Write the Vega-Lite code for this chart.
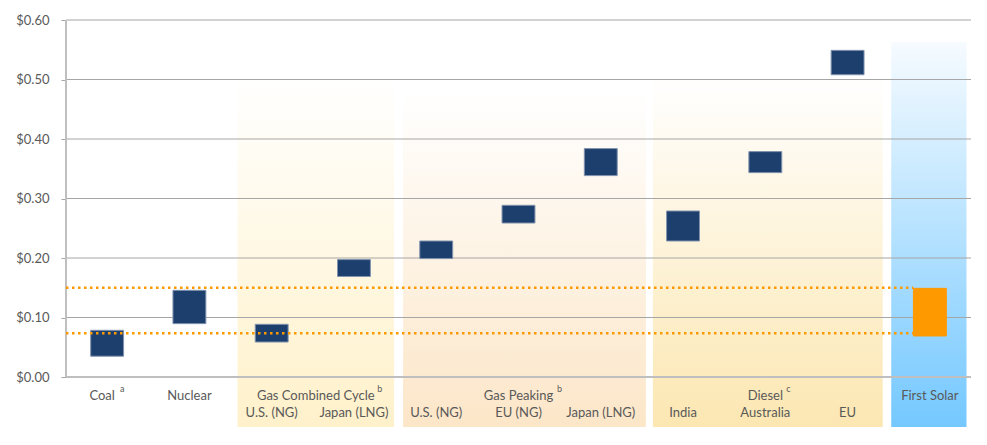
{
  "$schema": "https://vega.github.io/schema/vega-lite/v6.json",
  "width": 905,
  "height": 407,
  "autosize": {"type": "none"},
  "padding": {"left": 66, "top": 20, "right": 16, "bottom": 18},
  "background": "white",
  "config": {"view": {"stroke": null}, "font": "Lato"},
  "datasets": {
    "bars": [
      {"cat": "coal", "type": "conventional", "low": 0.035, "high": 0.0785},
      {"cat": "nuclear", "type": "conventional", "low": 0.0897, "high": 0.1457},
      {"cat": "gcc_us", "type": "conventional", "low": 0.0588, "high": 0.0886},
      {"cat": "gcc_jp", "type": "conventional", "low": 0.169, "high": 0.1973},
      {"cat": "gp_us", "type": "conventional", "low": 0.199, "high": 0.2286},
      {"cat": "gp_eu", "type": "conventional", "low": 0.2588, "high": 0.2886},
      {"cat": "gp_jp", "type": "conventional", "low": 0.3385, "high": 0.3839},
      {"cat": "d_in", "type": "conventional", "low": 0.2286, "high": 0.279},
      {"cat": "d_au", "type": "conventional", "low": 0.3435, "high": 0.3788},
      {"cat": "d_eu", "type": "conventional", "low": 0.508, "high": 0.549},
      {"cat": "fs", "type": "solar", "low": 0.069, "high": 0.149}
    ],
    "regions": [
      {"group": "gcc", "start": "gcc_us", "end": "gcc_jp"},
      {"group": "gp", "start": "gp_us", "end": "gp_jp"},
      {"group": "diesel", "start": "d_in", "end": "d_eu"},
      {"group": "solar", "start": "fs", "end": "fs"}
    ],
    "grid": [{"v": 0.1}, {"v": 0.2}, {"v": 0.3}, {"v": 0.4}, {"v": 0.5}, {"v": 0.6}],
    "levels": [{"level": 0.1502}, {"level": 0.0735}],
    "groupLabels": [
      {"cat": "nuclear", "text": "Nuclear"},
      {"cat": "gp_eu", "text": "Gas Peaking"},
      {"cat": "d_au", "text": "Diesel"},
      {"cat": "fs", "text": "First Solar"}
    ],
    "coalLabel": [{"cat": "coal", "text": "Coal", "note": "a"}],
    "gccLabel": [{"cat": "gcc_jp", "text": "Gas Combined Cycle", "note": "b"}],
    "gpNote": [{"cat": "gp_eu", "note": "b"}],
    "dieselNote": [{"cat": "d_au", "note": "c"}],
    "subLabels": [
      {"cat": "gcc_us", "text": "U.S. (NG)"},
      {"cat": "gcc_jp", "text": "Japan (LNG)"},
      {"cat": "gp_us", "text": "U.S. (NG)"},
      {"cat": "gp_eu", "text": "EU (NG)"},
      {"cat": "gp_jp", "text": "Japan (LNG)"},
      {"cat": "d_in", "text": "India"},
      {"cat": "d_au", "text": "Australia"},
      {"cat": "d_eu", "text": "EU"}
    ]
  },
  "layer": [
    {
      "data": {"name": "regions"},
      "transform": [{"filter": "datum.group === 'gcc'"}],
      "mark": {"type": "rect", "xOffset": 7, "x2Offset": -1,
        "fill": {"gradient": "linear", "x1": 0, "y1": 1, "x2": 0, "y2": 0,
          "stops": [{"offset": 0, "color": "#FFF1CA"}, {"offset": 1, "color": "#FFFFFF"}]}},
      "encoding": {
        "x": {"field": "start", "type": "nominal", "bandPosition": 0,
          "scale": {"type": "band", "domain": ["coal", "nuclear", "gcc_us", "gcc_jp", "gp_us", "gp_eu", "gp_jp", "d_in", "d_au", "d_eu", "fs"], "paddingInner": 0, "paddingOuter": 0}, "axis": null},
        "x2": {"field": "end", "bandPosition": 1},
        "y": {"datum": -0.084, "type": "quantitative", "scale": {"domain": [-0.084, 0.6], "nice": false, "zero": false}},
        "y2": {"datum": 0.505}
      }
    },
    {
      "data": {"name": "regions"},
      "transform": [{"filter": "datum.group === 'gp'"}],
      "mark": {"type": "rect", "xOffset": 8, "x2Offset": 4,
        "fill": {"gradient": "linear", "x1": 0, "y1": 1, "x2": 0, "y2": 0,
          "stops": [{"offset": 0, "color": "#FCE6C8"}, {"offset": 1, "color": "#FFFFFF"}]}},
      "encoding": {
        "x": {"field": "start", "type": "nominal", "bandPosition": 0},
        "x2": {"field": "end", "bandPosition": 1},
        "y": {"datum": -0.084, "type": "quantitative"},
        "y2": {"datum": 0.48}
      }
    },
    {
      "data": {"name": "regions"},
      "transform": [{"filter": "datum.group === 'diesel'"}],
      "mark": {"type": "rect", "xOffset": 11, "x2Offset": -6,
        "fill": {"gradient": "linear", "x1": 0, "y1": 1, "x2": 0, "y2": 0,
          "stops": [{"offset": 0, "color": "#FCE7B2"}, {"offset": 1, "color": "#FFFFFF"}]}},
      "encoding": {
        "x": {"field": "start", "type": "nominal", "bandPosition": 0},
        "x2": {"field": "end", "bandPosition": 1},
        "y": {"datum": -0.084, "type": "quantitative"},
        "y2": {"datum": 0.505}
      }
    },
    {
      "data": {"name": "regions"},
      "transform": [{"filter": "datum.group === 'solar'"}],
      "mark": {"type": "rect", "xOffset": 2.5, "x2Offset": -4.5,
        "fill": {"gradient": "linear", "x1": 0, "y1": 1, "x2": 0, "y2": 0,
          "stops": [{"offset": 0, "color": "#74C8FF"}, {"offset": 1, "color": "#F6FBFF"}]}},
      "encoding": {
        "x": {"field": "start", "type": "nominal", "bandPosition": 0},
        "x2": {"field": "end", "bandPosition": 1},
        "y": {"datum": -0.084, "type": "quantitative"},
        "y2": {"datum": 0.5625}
      }
    },
    {
      "data": {"name": "grid"},
      "mark": {"type": "rule", "color": "#A6A6A6", "strokeWidth": 1},
      "encoding": {
        "x": {"datum": "coal", "type": "nominal", "bandPosition": 0},
        "x2": {"datum": "fs", "bandPosition": 1},
        "y": {"field": "v", "type": "quantitative",
          "axis": {"values": [0, 0.1, 0.2, 0.3, 0.4, 0.5, 0.6], "format": "$.2f", "title": null,
            "grid": false, "domain": false, "tickColor": "#A6A6A6", "tickSize": 5, "labelPadding": 12,
            "labelFont": "Lato", "labelFontSize": 13, "labelColor": "#595959"}}
      }
    },
    {
      "data": {"values": [{}]},
      "mark": {"type": "rule", "color": "#BFBFBF", "strokeWidth": 2},
      "encoding": {
        "x": {"datum": "coal", "type": "nominal", "bandPosition": 0},
        "x2": {"datum": "fs", "bandPosition": 1},
        "y": {"datum": 0, "type": "quantitative"}
      }
    },
    {
      "data": {"values": [{}]},
      "mark": {"type": "rule", "color": "#BFBFBF", "strokeWidth": 2},
      "encoding": {
        "x": {"datum": "coal", "type": "nominal", "bandPosition": 0},
        "y": {"datum": 0, "type": "quantitative"},
        "y2": {"datum": 0.6}
      }
    },
    {
      "data": {"name": "bars"},
      "mark": {"type": "bar", "width": {"band": 0.4}, "strokeWidth": 1},
      "encoding": {
        "x": {"field": "cat", "type": "nominal"},
        "y": {"field": "high", "type": "quantitative"},
        "y2": {"field": "low"},
        "fill": {"field": "type", "type": "nominal", "scale": {"domain": ["conventional", "solar"], "range": ["#1C3F6E", "#FF9900"]}, "legend": null},
        "stroke": {"field": "type", "type": "nominal", "scale": {"domain": ["conventional", "solar"], "range": ["#8293AD", "#FF9900"]}, "legend": null}
      }
    },
    {
      "data": {"name": "levels"},
      "mark": {"type": "rule", "color": "#FF9900", "strokeWidth": 2.5, "strokeDash": [2.5, 3.5]},
      "encoding": {
        "x": {"datum": "coal", "type": "nominal", "bandPosition": 0},
        "x2": {"datum": "fs", "bandPosition": 0.3},
        "y": {"field": "level", "type": "quantitative"}
      }
    },
    {
      "data": {"name": "groupLabels"},
      "mark": {"type": "text", "font": "Lato", "fontSize": 13, "color": "#595959", "baseline": "middle", "align": "center"},
      "encoding": {
        "x": {"field": "cat", "type": "nominal"},
        "y": {"datum": -0.0324, "type": "quantitative"},
        "text": {"field": "text"}
      }
    },
    {
      "data": {"name": "coalLabel"},
      "mark": {"type": "text", "font": "Lato", "fontSize": 13, "color": "#595959", "baseline": "middle", "align": "center", "dx": -5},
      "encoding": {
        "x": {"field": "cat", "type": "nominal"},
        "y": {"datum": -0.0324, "type": "quantitative"},
        "text": {"field": "text"}
      }
    },
    {
      "data": {"name": "coalLabel"},
      "mark": {"type": "text", "font": "Lato", "fontSize": 9, "color": "#595959", "baseline": "middle", "align": "center", "dx": 15, "dy": -7},
      "encoding": {
        "x": {"field": "cat", "type": "nominal"},
        "y": {"datum": -0.0324, "type": "quantitative"},
        "text": {"field": "note"}
      }
    },
    {
      "data": {"name": "gccLabel"},
      "mark": {"type": "text", "font": "Lato", "fontSize": 13, "color": "#595959", "baseline": "middle", "align": "center", "dx": 3},
      "encoding": {
        "x": {"field": "cat", "type": "nominal", "bandPosition": 0},
        "y": {"datum": -0.0324, "type": "quantitative"},
        "text": {"field": "text"}
      }
    },
    {
      "data": {"name": "gccLabel"},
      "mark": {"type": "text", "font": "Lato", "fontSize": 9, "color": "#595959", "baseline": "middle", "align": "center", "dx": 67, "dy": -7},
      "encoding": {
        "x": {"field": "cat", "type": "nominal", "bandPosition": 0},
        "y": {"datum": -0.0324, "type": "quantitative"},
        "text": {"field": "note"}
      }
    },
    {
      "data": {"name": "gpNote"},
      "mark": {"type": "text", "font": "Lato", "fontSize": 9, "color": "#595959", "baseline": "middle", "align": "center", "dx": 41, "dy": -7},
      "encoding": {
        "x": {"field": "cat", "type": "nominal"},
        "y": {"datum": -0.0324, "type": "quantitative"},
        "text": {"field": "note"}
      }
    },
    {
      "data": {"name": "dieselNote"},
      "mark": {"type": "text", "font": "Lato", "fontSize": 9, "color": "#595959", "baseline": "middle", "align": "center", "dx": 23, "dy": -7},
      "encoding": {
        "x": {"field": "cat", "type": "nominal"},
        "y": {"datum": -0.0324, "type": "quantitative"},
        "text": {"field": "note"}
      }
    },
    {
      "data": {"name": "subLabels"},
      "mark": {"type": "text", "font": "Lato", "fontSize": 13, "color": "#595959", "baseline": "middle", "align": "center"},
      "encoding": {
        "x": {"field": "cat", "type": "nominal"},
        "y": {"datum": -0.061, "type": "quantitative"},
        "text": {"field": "text"}
      }
    }
  ]
}
